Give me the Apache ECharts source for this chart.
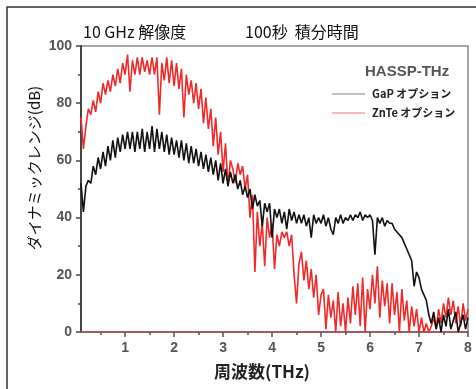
<!DOCTYPE html>
<html>
<head>
<meta charset="utf-8">
<script src="https://cdn.jsdelivr.net/npm/echarts@6/dist/echarts.min.js"></script>
<style>
  html, body { margin: 0; padding: 0; background: #fff; }
  #chart { width: 476px; height: 389px; }
</style>
</head>
<body>
<div id="chart"></div>
<script>
// Frequency grid (THz) shared by both spectra
const freqTHz = [
  0.10,0.15,0.20,0.25,0.30,0.35,0.40,0.45,0.50,0.55,
  0.60,0.65,0.70,0.75,0.80,0.85,0.90,0.95,1.00,1.05,
  1.10,1.15,1.20,1.25,1.30,1.35,1.40,1.45,1.50,1.55,
  1.60,1.65,1.70,1.75,1.80,1.85,1.90,1.95,2.00,2.05,
  2.10,2.15,2.20,2.25,2.30,2.35,2.40,2.45,2.50,2.55,
  2.60,2.65,2.70,2.75,2.80,2.85,2.90,2.95,3.00,3.05,
  3.10,3.15,3.20,3.25,3.30,3.35,3.40,3.45,3.50,3.55,
  3.60,3.65,3.70,3.75,3.80,3.85,3.90,3.95,4.00,4.05,
  4.10,4.15,4.20,4.25,4.30,4.35,4.40,4.45,4.50,4.55,
  4.60,4.65,4.70,4.75,4.80,4.85,4.90,4.95,5.00,5.05,
  5.10,5.15,5.20,5.25,5.30,5.35,5.40,5.45,5.50,5.55,
  5.60,5.65,5.70,5.75,5.80,5.85,5.90,5.95,6.00,6.05,
  6.10,6.15,6.20,6.25,6.30,6.35,6.40,6.45,6.50,6.55,
  6.60,6.65,6.70,6.75,6.80,6.85,6.90,6.95,7.00,7.05,
  7.10,7.15,7.20,7.25,7.30,7.35,7.40,7.45,7.50,7.55,
  7.60,7.65,7.70,7.75,7.80,7.85,7.90,7.95,8.00
];

// Dynamic range with the GaP option (dB)
const gapDB = [
  52,42,51,53,52,58,55,61,57,63,
  58,65,60,67,61,68,63,69,64,70,
  64,70,63,70,64,71,63,70,64,72,
  63,71,64,70,63,69,62,68,62,67,
  61,67,60,66,59,65,59,64,58,63,
  57,62,56,61,55,60,53,59,52,57,
  51,56,52,55,50,53,48,51,47,50,
  43,48,44,46,37,45,42,45,33,43,
  40,43,38,42,36,43,39,42,38,41,
  38,41,37,40,33,41,38,40,38,41,
  37,40,36,34,40,38,41,38,40,39,
  41,39,41,40,42,39,41,40,41,39,
  27,40,38,40,37,39,38,38,36,35,
  34,33,31,29,27,25,16,21,19,15,
  13,11,6,3,7,1,5,0,6,2,
  8,1,4,7,0,3,6,1,5
];

// Dynamic range with the ZnTe option (dB)
const znteDB = [
  75,64,72,78,76,81,77,84,80,87,
  83,88,84,90,86,92,87,94,90,97,
  84,95,90,96,90,96,91,95,90,96,
  90,96,76,94,88,96,87,95,86,94,
  85,92,75,90,83,88,80,87,78,85,
  73,82,71,78,65,75,62,70,56,66,
  51,60,57,52,59,55,58,50,55,40,
  48,21,42,30,38,23,40,33,38,22,
  34,30,35,33,35,30,34,20,10,24,
  28,18,25,15,22,12,20,6,13,15,
  1,13,5,11,0,14,2,10,0,12,
  3,16,6,17,2,19,0,15,8,20,
  10,23,5,18,9,17,3,17,6,14,
  0,15,4,11,0,9,2,8,0,5,
  0,3,0,2,5,1,8,3,10,5,
  12,6,11,3,9,2,10,4,8
];

const seriesNames = ['GaP オプション', 'ZnTe オプション'];
const xMajorTicks = [1, 2, 3, 4, 5, 6, 7, 8];
const xMinorTicks = [0.5, 1.5, 2.5, 3.5, 4.5, 5.5, 6.5, 7.5];
const yTickStep = 20;

const pairs = vals => vals.map((v, i) => [freqTHz[i], v]);

const chart = echarts.init(document.getElementById('chart'), null, { renderer: 'canvas' });

const tickLabelStyle = {
  fontFamily: 'Liberation Sans, Arial, sans-serif',
  fontSize: 14,
  fontWeight: 'bold',
  color: '#555'
};

// Legend key: a short line followed by the series name
const legendRow = (name, color, y) => ([
  {
    type: 'line', silent: true,
    shape: { x1: 332, y1: y, x2: 365, y2: y },
    style: { stroke: color, lineWidth: 1.5 }
  },
  {
    type: 'text', x: 372, y: y,
    style: { text: name, font: 'bold 11px "Noto Sans CJK JP", sans-serif', fill: '#222', verticalAlign: 'middle' }
  }
]);

chart.setOption({
  animation: false,
  backgroundColor: '#fff',
  grid: {
    left: 81, top: 46, width: 387, height: 286,
    show: true, borderColor: '#888', borderWidth: 1.5,
    backgroundColor: 'transparent'
  },
  xAxis: [
    {
      type: 'value', min: 0.1, max: 8,
      axisLine: { show: true, lineStyle: { color: '#a85a5a', width: 2 } },
      axisTick: { show: true, customValues: xMajorTicks, length: 5, lineStyle: { color: '#555', width: 1.5 } },
      axisLabel: Object.assign({ customValues: xMajorTicks, margin: 9 }, tickLabelStyle),
      splitLine: { show: false }
    },
    {
      type: 'value', min: 0.1, max: 8, position: 'bottom',
      axisLine: { show: false },
      axisTick: { show: true, customValues: xMinorTicks, length: 3, lineStyle: { color: '#555', width: 1.5 } },
      axisLabel: { show: false },
      splitLine: { show: false }
    }
  ],
  yAxis: {
    type: 'value', min: 0, max: 100, interval: yTickStep,
    axisLine: { show: true, lineStyle: { color: '#444', width: 2 } },
    axisTick: { show: true, length: 5, lineStyle: { color: '#444', width: 1.5 } },
    minorTick: { show: true, splitNumber: 2, length: 3, lineStyle: { color: '#444', width: 1.5 } },
    axisLabel: Object.assign({ margin: 9 }, tickLabelStyle),
    splitLine: { show: false },
    minorSplitLine: { show: false }
  },
  series: [
    {
      name: seriesNames[1], type: 'line', xAxisIndex: 0, symbol: 'none',
      lineStyle: { color: '#ee2b2b', width: 1.6 }, itemStyle: { color: '#ee2b2b' },
      data: pairs(znteDB), z: 2
    },
    {
      name: seriesNames[0], type: 'line', xAxisIndex: 0, symbol: 'none',
      lineStyle: { color: '#111', width: 1.6 }, itemStyle: { color: '#111' },
      data: pairs(gapDB), z: 3
    }
  ],
  graphic: [
    {
      type: 'rect', silent: true, z: 0,
      shape: { x: 7, y: 7, width: 520, height: 520 },
      style: { fill: 'none', stroke: '#333', lineWidth: 1.5 }
    },
    {
      type: 'text', left: 83, top: 24,
      style: { text: '10 GHz 解像度', font: '16px "Noto Sans CJK JP", sans-serif', fill: '#111' }
    },
    {
      type: 'text', left: 245, top: 24,
      style: { text: '100秒  積分時間', font: '16px "Noto Sans CJK JP", sans-serif', fill: '#111' }
    },
    {
      type: 'text', left: 365, top: 64,
      style: { text: 'HASSP-THz', font: 'bold 15px "Liberation Sans", Arial, sans-serif', fill: '#555' }
    },
    ...legendRow(seriesNames[0], '#aaa', 94),
    ...legendRow(seriesNames[1], '#f5a3a3', 113),
    {
      type: 'text', x: 34, y: 168, rotation: Math.PI / 2,
      style: { text: 'ダイナミックレンジ(dB)', font: '15px "Noto Sans CJK JP", sans-serif', fill: '#111', align: 'center', verticalAlign: 'middle' }
    },
    {
      type: 'text', x: 262, y: 372,
      style: { text: '周波数(THz)', font: 'bold 17px "Noto Sans CJK JP", sans-serif', fill: '#222', align: 'center', verticalAlign: 'middle' }
    }
  ]
});
</script>
</body>
</html>
